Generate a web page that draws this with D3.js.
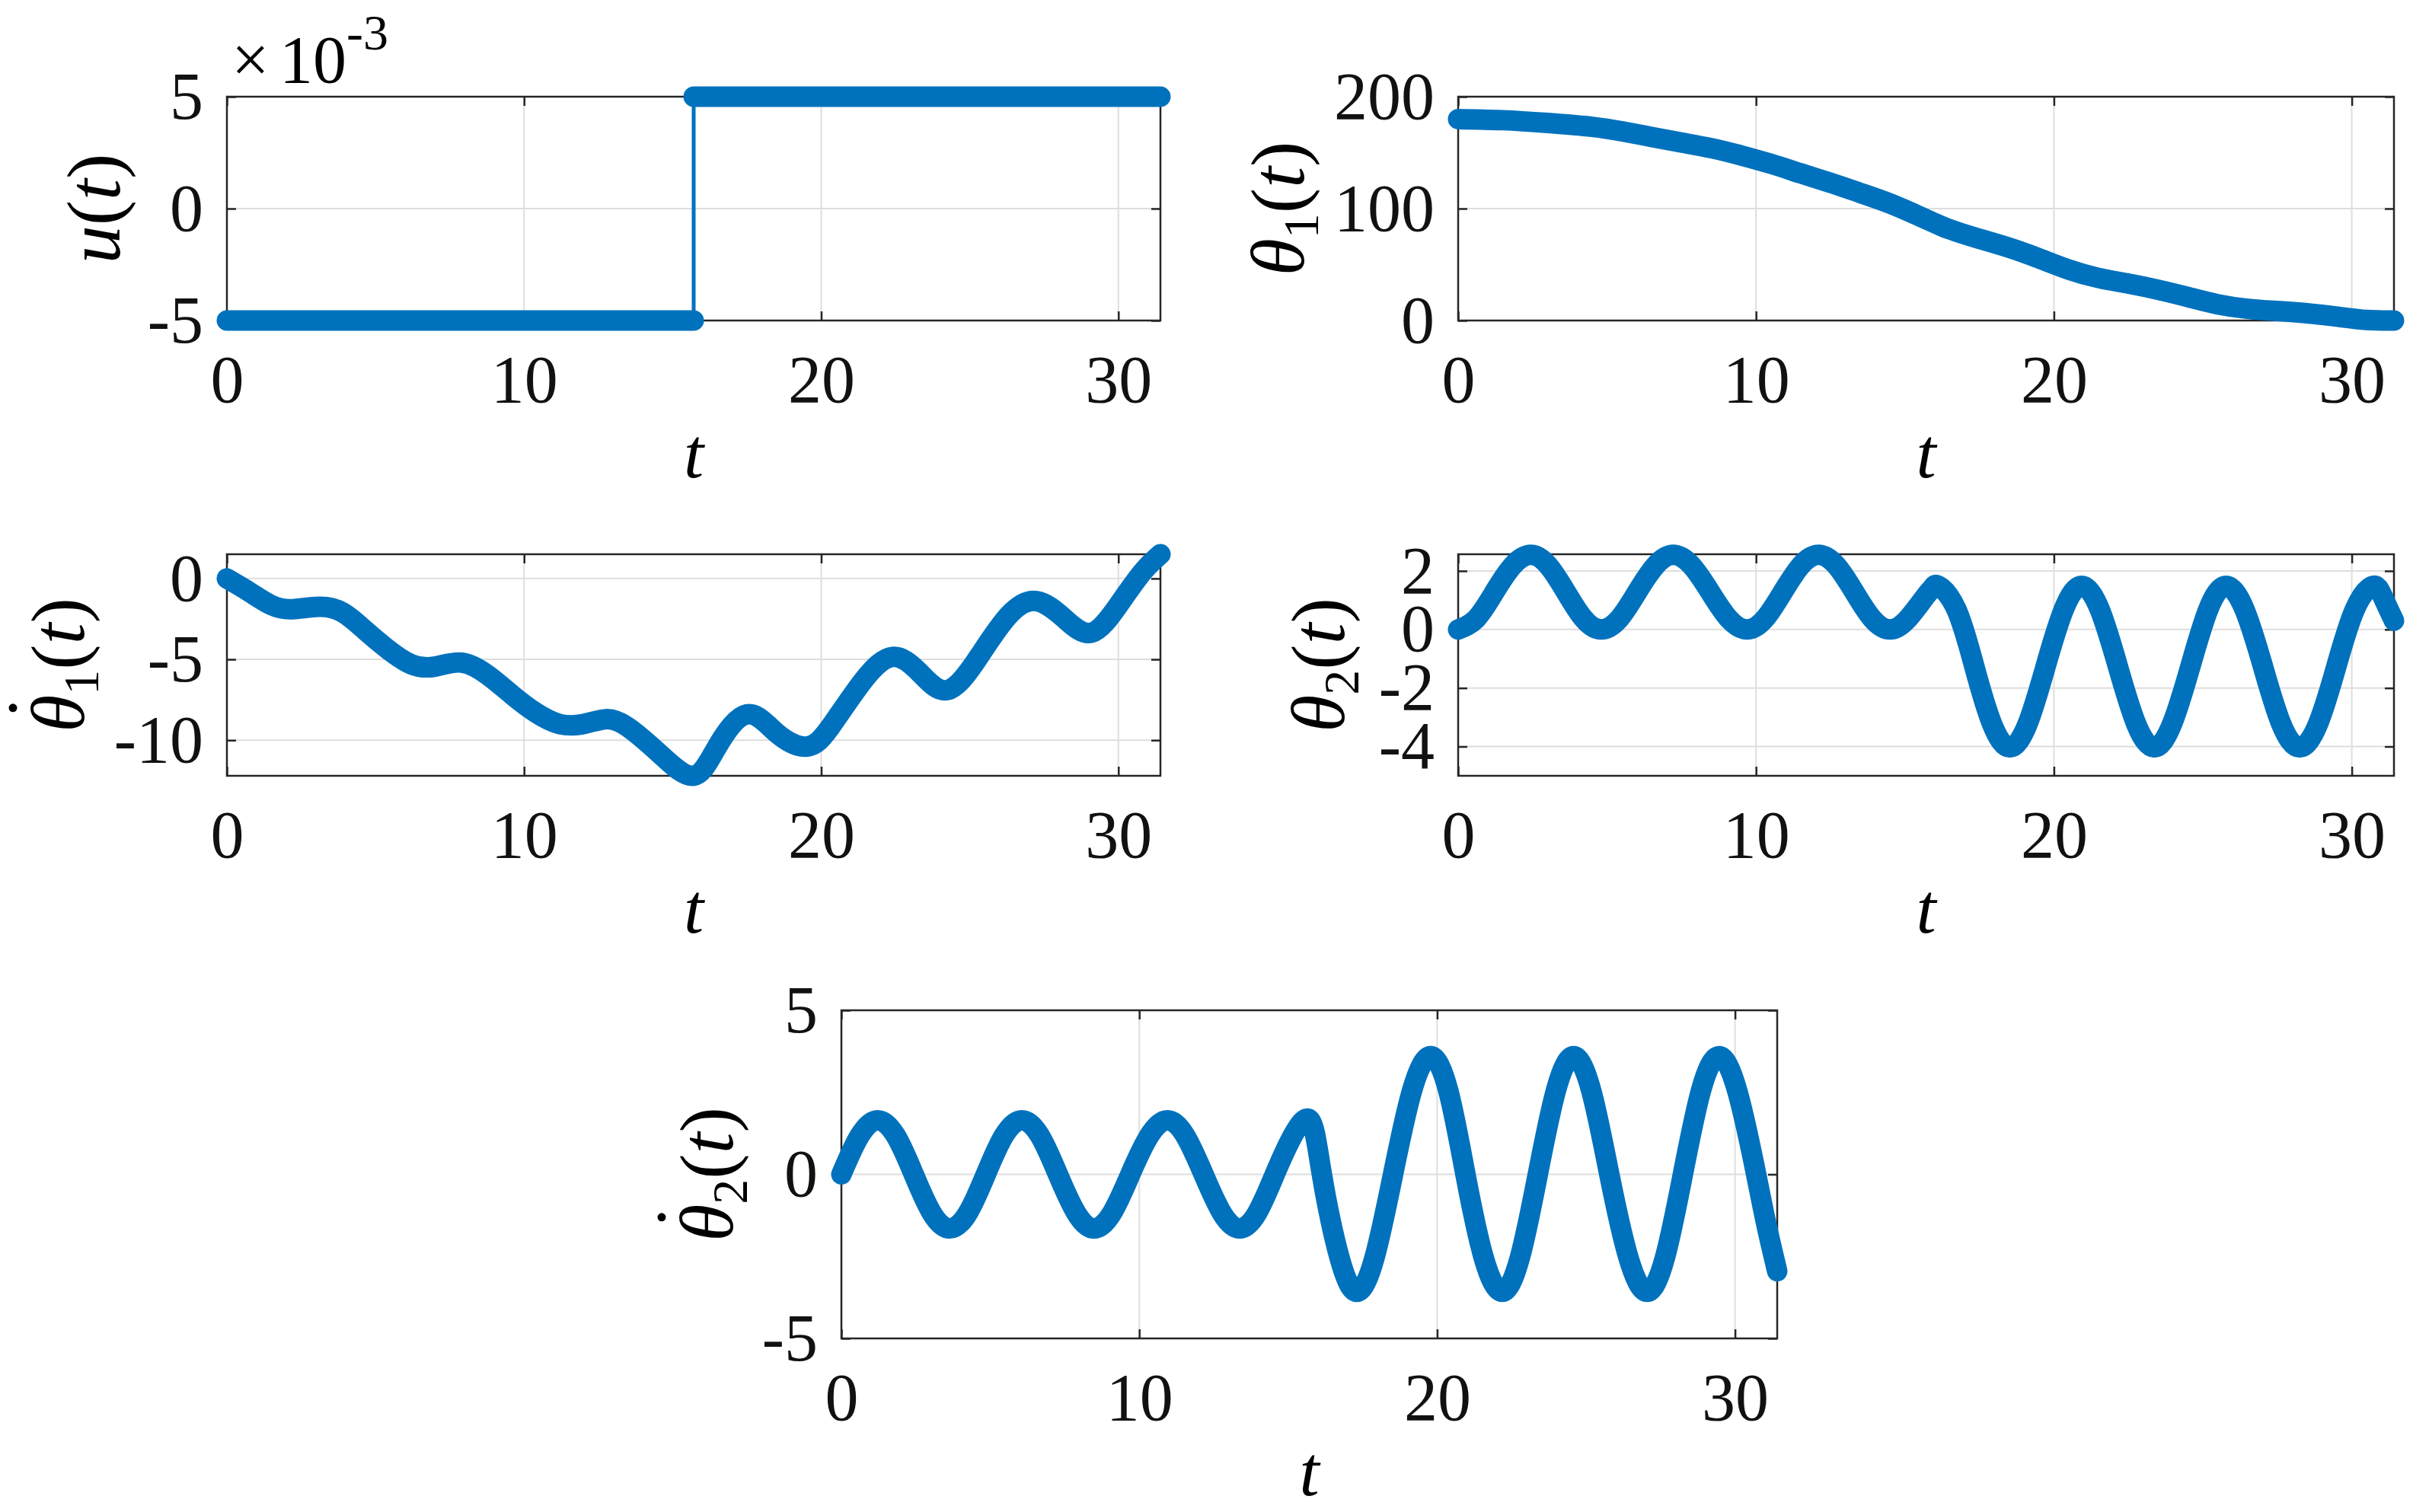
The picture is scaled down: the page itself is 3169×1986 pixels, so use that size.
<!DOCTYPE html>
<html>
<head>
<meta charset="utf-8">
<script src="https://cdn.jsdelivr.net/npm/d3@7"></script>
<style>
  body { margin: 0; background: #fff; }
  svg { display: block; }
</style>
</head>
<body>
<div id="container"></div>
<script>
// shared time axis
const tMax = 31.416;
const tTicks = [0, 10, 20, 30];

// control input u(t), shown in units of 1e-3
const uTime = [0, 15.708, 15.708, 31.416];
const uValues = [-0.005, -0.005, 0.005, 0.005];
const uTicks = [-0.005, 0, 0.005];
const uLimits = [-0.005, 0.005];

// theta1(t)
const theta1Time = [0, 1.5, 3, 4.5, 5.5, 6.5, 7.5, 8.5, 9.5, 10.5, 11.5, 12.5, 13.5, 14.5, 15.5, 16.5,
  17.5, 18.5, 19.5, 20.5, 21.5, 22.5, 23.5, 24.5, 25.5, 26.5, 27.5, 28.5, 29.5, 30.5, 31.416];
const theta1Values = [180, 179, 176.5, 173, 169, 164, 159, 154, 147.5, 140, 131.5, 123, 114, 104.5, 93, 81.5,
  73, 65, 55.5, 45.5, 38, 33, 27.5, 21, 14.5, 10.5, 8.5, 6.5, 3.5, 0.5, 0];
const theta1Ticks = [0, 100, 200];
const theta1Limits = [0, 200];

// theta1 dot
const theta1DotTime = [0, 0.73, 1.5, 2.2, 3.1, 3.9, 4.65, 5.4, 6.2, 7.0, 7.9, 8.8, 9.6, 10.4, 11.2, 12.0,
  12.75, 13.5, 14.6, 15.7, 16.5, 17.5, 18.5, 19.5, 20.3, 21.4, 22.4, 23.3, 24.25, 25.3, 26.3, 27.25,
  28.2, 29.1, 30.0, 30.8, 31.416];
const theta1DotValues = [0, -0.8, -1.65, -1.9, -1.75, -2.1, -3.2, -4.35, -5.3, -5.45, -5.2, -6.0, -7.2, -8.3, -9.0, -9.0,
  -8.7, -9.2, -10.9, -12.2, -10.4, -8.4, -9.55, -10.4, -9.2, -6.35, -4.85, -5.8, -6.9, -4.85, -2.3, -1.4,
  -2.5, -3.35, -1.65, 0.37, 1.5];
const theta1DotTicks = [-10, -5, 0];
const theta1DotLimits = [-12.2, 1.5];

// theta2(t)
const theta2Time = [0, 0.61, 1.22, 1.83, 2.44, 3.03, 3.62, 4.21, 4.8, 5.41, 6.01, 6.62, 7.22, 7.84, 8.46, 9.08,
  9.7, 10.3, 10.9, 11.5, 12.1, 12.7, 13.3, 13.9, 14.5, 15.1, 15.7, 15.92, 16.13, 16.73, 17.33, 17.92,
  18.52, 19.12, 19.72, 20.33, 20.93, 21.54, 22.15, 22.76, 23.37, 23.97, 24.58, 25.18, 25.78, 26.4, 27.02,
  27.63, 28.25, 28.87, 29.48, 30.1, 30.71, 31.05, 31.416];
const theta2Values = [0, 0.37, 1.28, 2.18, 2.55, 2.18, 1.28, 0.37, 0, 0.37, 1.28, 2.18, 2.55, 2.18, 1.28, 0.37,
  0, 0.37, 1.28, 2.18, 2.55, 2.18, 1.28, 0.37, 0, 0.37, 1.15, 1.42, 1.49, 0.68, -1.27, -3.22,
  -4.03, -3.22, -1.27, 0.68, 1.49, 0.68, -1.27, -3.22, -4.03, -3.22, -1.27, 0.68, 1.49, 0.68, -1.27,
  -3.22, -4.03, -3.22, -1.27, 0.68, 1.49, 1.1, 0.3];
const theta2Ticks = [-4, -2, 0, 2];
const theta2Limits = [-5, 2.57];

// theta2 dot
const theta2DotTime = [0, 0.61, 1.22, 1.83, 2.43, 3.03, 3.64, 4.25, 4.85, 5.45, 6.06, 6.67, 7.27, 7.88, 8.48, 9.09,
  9.7, 10.33, 10.95, 11.55, 12.16, 12.77, 13.37, 13.96, 14.55, 15.15, 15.74, 16.13, 16.72, 17.31, 17.9,
  18.52, 19.15, 19.78, 20.38, 20.95, 21.56, 22.18, 22.78, 23.38, 23.98, 24.58, 25.18, 25.78, 26.42, 27.05,
  27.65, 28.25, 28.85, 29.45, 30.08, 30.71, 31.07, 31.416];
const theta2DotValues = [0, 1.17, 1.65, 1.17, 0, -1.17, -1.65, -1.17, 0, 1.17, 1.65, 1.17, 0, -1.17, -1.65, -1.17,
  0, 1.17, 1.65, 1.17, 0, -1.17, -1.65, -1.17, 0, 1.17, 1.65, 0, -2.53, -3.58, -2.53,
  0, 2.53, 3.6, 2.53, 0, -2.53, -3.58, -2.53, 0, 2.53, 3.6, 2.53, 0, -2.53, -3.58,
  -2.53, 0, 2.53, 3.6, 2.53, 0, -1.6, -2.95];
const theta2DotTicks = [-5, 0, 5];
const theta2DotLimits = [-5, 5];

const serif = "'Liberation Serif', 'Times New Roman', serif";
const lineColor = "#0072BD";
const axisColor = "#262626";
const gridColor = "#dedede";
const thick = 27;

document.addEventListener("DOMContentLoaded", function() {
    const svg = d3.select("#container")
        .append("svg")
            .attr("width", 3169)
            .attr("height", 1986)
            .style("background", "#fff");

    const panels = [
        { left: 298, top: 127, width: 1226, height: 294, time: uTime, values: uValues,
          ticks: uTicks, limits: uLimits, step: true, labelGap: 141,
          format: d => String(Math.round(d * 1000)),
          label: [{ t: "u", i: true }, { t: "(" }, { t: "t", i: true }, { t: ")" }] },
        { left: 1915, top: 127, width: 1229, height: 294, time: theta1Time, values: theta1Values,
          ticks: theta1Ticks, limits: theta1Limits, labelGap: 203,
          label: [{ t: "θ", i: true }, { t: "1", sub: true }, { t: "(" }, { t: "t", i: true }, { t: ")" }] },
        { left: 298, top: 728, width: 1226, height: 291, time: theta1DotTime, values: theta1DotValues,
          ticks: theta1DotTicks, limits: theta1DotLimits, labelGap: 188, dot: true,
          label: [{ t: "θ", i: true }, { t: "1", sub: true }, { t: "(" }, { t: "t", i: true }, { t: ")" }] },
        { left: 1915, top: 728, width: 1229, height: 291, time: theta2Time, values: theta2Values,
          ticks: theta2Ticks, limits: theta2Limits, labelGap: 150,
          label: [{ t: "θ", i: true }, { t: "2", sub: true }, { t: "(" }, { t: "t", i: true }, { t: ")" }] },
        { left: 1105, top: 1327, width: 1229, height: 431, time: theta2DotTime, values: theta2DotValues,
          ticks: theta2DotTicks, limits: theta2DotLimits, labelGap: 143, dot: true,
          label: [{ t: "θ", i: true }, { t: "2", sub: true }, { t: "(" }, { t: "t", i: true }, { t: ")" }] }
    ];

    panels.forEach(p => drawPanel(p));

    // x10^-3 multiplier above the u(t) axes
    const expo = svg.append("text")
        .attr("font-family", serif)
        .attr("fill", "#000");
    expo.append("tspan").attr("x", 304).attr("y", 108).attr("font-size", 88).text("×");
    expo.append("tspan").attr("x", 367).attr("y", 108).attr("font-size", 88).text("10");
    expo.append("tspan").attr("x", 455).attr("y", 65).attr("font-size", 66).text("-3");

    function drawPanel(p) {
        const x = d3.scaleLinear().domain([0, tMax]).range([p.left, p.left + p.width]);
        const y = d3.scaleLinear().domain(p.limits).range([p.top + p.height, p.top]);
        const fmt = p.format || (d => String(d));
        const data = p.time.map((t, i) => ({ t: t, v: p.values[i] }));

        // grid lines
        svg.append("g").selectAll("line")
            .data(tTicks.filter(d => d > 0))
            .enter().append("line")
                .attr("x1", d => x(d)).attr("x2", d => x(d))
                .attr("y1", p.top).attr("y2", p.top + p.height)
                .attr("stroke", gridColor).attr("stroke-width", 2);
        svg.append("g").selectAll("line")
            .data(p.ticks)
            .enter().append("line")
                .attr("x1", p.left).attr("x2", p.left + p.width)
                .attr("y1", d => y(d)).attr("y2", d => y(d))
                .attr("stroke", gridColor).attr("stroke-width", 2);

        // axes with inward ticks on all four sides
        const bottom = svg.append("g")
            .attr("transform", "translate(0," + (p.top + p.height) + ")")
            .call(d3.axisBottom(x).tickValues(tTicks).tickFormat(d => String(d))
                .tickSizeInner(-12).tickSizeOuter(0));
        bottom.selectAll("text").attr("y", 107).attr("dy", null);

        svg.append("g")
            .attr("transform", "translate(0," + p.top + ")")
            .call(d3.axisTop(x).tickValues(tTicks).tickFormat("")
                .tickSizeInner(-12).tickSizeOuter(0));

        svg.append("g")
            .attr("transform", "translate(" + p.left + ",0)")
            .call(d3.axisLeft(y).tickValues(p.ticks).tickFormat(fmt)
                .tickSizeInner(-12).tickSizeOuter(0).tickPadding(31));

        svg.append("g")
            .attr("transform", "translate(" + (p.left + p.width) + ",0)")
            .call(d3.axisRight(y).tickValues(p.ticks).tickFormat("")
                .tickSizeInner(-12).tickSizeOuter(0));

        svg.selectAll(".domain").remove();
        svg.selectAll(".tick line").attr("stroke", axisColor).attr("stroke-width", 2.5);
        svg.selectAll(".tick text")
            .attr("font-family", serif)
            .attr("font-size", 88)
            .attr("fill", "#111");

        // axes box
        svg.append("rect")
            .attr("x", p.left).attr("y", p.top)
            .attr("width", p.width).attr("height", p.height)
            .attr("fill", "none")
            .attr("stroke", axisColor)
            .attr("stroke-width", 2.5);

        // data
        if (p.step) {
            // thin line through the switch, thick where the input is held
            svg.append("path")
                .datum(data)
                .attr("fill", "none")
                .attr("stroke", lineColor)
                .attr("stroke-width", 5)
                .attr("d", d3.line().x(d => x(d.t)).y(d => y(d.v)));
            for (let i = 0; i < data.length - 1; i++) {
                if (data[i].v !== data[i + 1].v) continue;
                svg.append("path")
                    .datum([data[i], data[i + 1]])
                    .attr("fill", "none")
                    .attr("stroke", lineColor)
                    .attr("stroke-width", thick)
                    .attr("stroke-linecap", "round")
                    .attr("d", d3.line().x(d => x(d.t)).y(d => y(d.v)));
            }
        } else {
            svg.append("path")
                .datum(data)
                .attr("fill", "none")
                .attr("stroke", lineColor)
                .attr("stroke-width", thick)
                .attr("stroke-linecap", "round")
                .attr("stroke-linejoin", "round")
                .attr("d", d3.line()
                    .curve(d3.curveNatural)
                    .x(d => x(d.t))
                    .y(d => y(d.v)));
        }

        // x label
        svg.append("text")
            .attr("x", p.left + p.width / 2)
            .attr("y", p.top + p.height + 206)
            .attr("text-anchor", "middle")
            .attr("font-family", serif)
            .attr("font-style", "italic")
            .attr("font-size", 94)
            .attr("fill", "#000")
            .text("t");

        // y label, rotated
        const fontSize = 100;
        const lg = svg.append("g")
            .attr("transform", "translate(" + (p.left - p.labelGap) + "," + (p.top + p.height / 2) + ") rotate(-90)");
        const label = lg.append("text")
            .attr("text-anchor", "middle")
            .attr("font-family", serif)
            .attr("font-size", fontSize)
            .attr("fill", "#000");
        let shift = 0;
        p.label.forEach(part => {
            const target = part.sub ? 19 : 0;
            label.append("tspan")
                .attr("font-style", part.i ? "italic" : "normal")
                .attr("font-size", part.sub ? 66 : fontSize)
                .attr("dy", target - shift)
                .text(part.t);
            shift = target;
        });
        if (p.dot) {
            const len = label.node().getComputedTextLength();
            lg.append("circle")
                .attr("cx", -len / 2 + 0.32 * fontSize)
                .attr("cy", -0.93 * fontSize)
                .attr("r", 5.5)
                .attr("fill", "#000");
        }
    }
});
</script>
</body>
</html>
